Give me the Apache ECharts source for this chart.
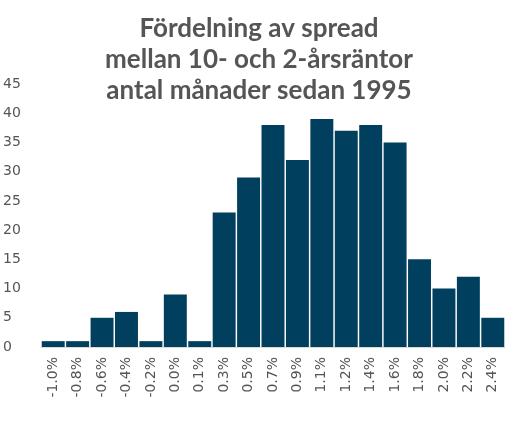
<!DOCTYPE html>
<html>
<head>
<style>
  html, body { margin: 0; padding: 0; background: #fff; }
  #chart { width: 518px; height: 431px; }
</style>
</head>
<body>
<div id="chart"></div>
<script src="https://cdn.jsdelivr.net/npm/echarts@6/dist/echarts.min.js"></script>
<script>
  const categories = ['-1.0%', '-0.8%', '-0.6%', '-0.4%', '-0.2%', '0.0%', '0.1%', '0.3%', '0.5%', '0.7%',
    '0.9%', '1.1%', '1.2%', '1.4%', '1.6%', '1.8%', '2.0%', '2.2%', '2.4%'];
  const months = [1, 1, 5, 6, 1, 9, 1, 23, 29, 38, 32, 39, 37, 38, 35, 15, 10, 12, 5];

  const chart = echarts.init(document.getElementById('chart'));
  chart.setOption({
    animation: false,
    title: {
      text: 'Fördelning av spread\nmellan 10- och 2-årsräntor\nantal månader sedan 1995',
      left: 'center', top: 8,
      textStyle: { fontFamily: 'Lato', fontWeight: 'bold', fontSize: 26, lineHeight: 31, color: '#555' }
    },
    grid: { left: 40, right: 13, top: 84, bottom: 84 },
    xAxis: {
      type: 'category', data: categories,
      axisTick: { show: false },
      axisLine: { lineStyle: { color: '#d9d9d9' } },
      axisLabel: { rotate: 90, interval: 0, color: '#555', fontSize: 14, fontFamily: 'DejaVu Sans', margin: 10 }
    },
    yAxis: {
      type: 'value', min: 0, max: 45, interval: 5,
      splitLine: { show: false },
      axisLabel: { color: '#555', fontSize: 14, fontFamily: 'DejaVu Sans', align: 'left', margin: 38 }
    },
    series: [{
      type: 'bar', data: months, barCategoryGap: '6%',
      itemStyle: { color: '#003f5e' }
    }]
  });
</script>
</body>
</html>
